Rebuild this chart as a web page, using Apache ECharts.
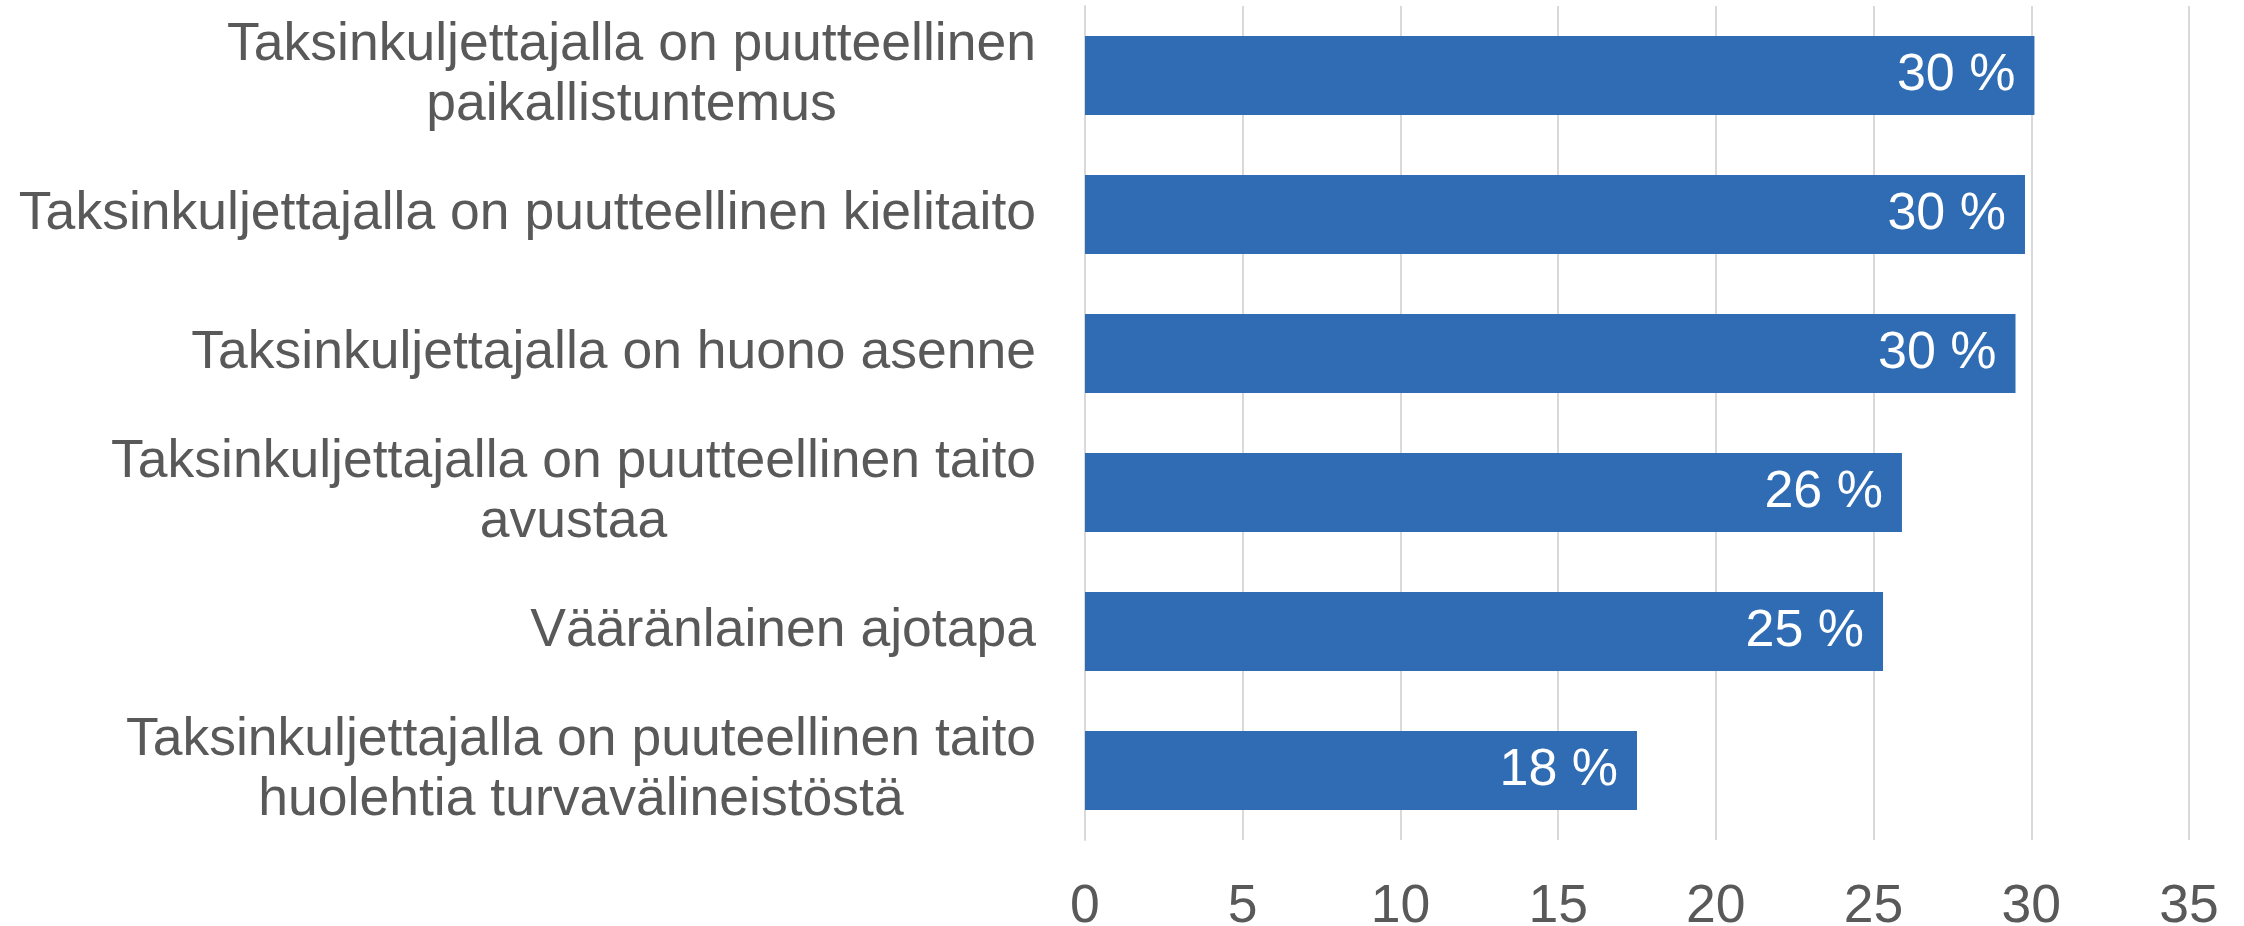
<!DOCTYPE html>
<html>
<head>
<meta charset="utf-8">
<script src="https://cdn.jsdelivr.net/npm/echarts@6/dist/echarts.min.js"></script>
<style>
    html, body { margin: 0; padding: 0; background: #ffffff; }
    #chart { width: 2244px; height: 926px; }
</style>
</head>
<body>
<div id="chart"></div>
<script>
// kategoriat (ylhäältä alas)
var categories = [
    'Taksinkuljettajalla on puutteellinen\npaikallistuntemus',
    'Taksinkuljettajalla on puutteellinen kielitaito',
    'Taksinkuljettajalla on huono asenne',
    'Taksinkuljettajalla on puutteellinen taito\navustaa',
    'Vääränlainen ajotapa',
    'Taksinkuljettajalla on puuteellinen taito\nhuolehtia turvavälineistöstä'
];
var values = [30.1, 29.8, 29.5, 25.9, 25.3, 17.5];
var xTicks = [0, 5, 10, 15, 20, 25, 30, 35];

var textColor = '#595959';
var fontFamily = '"Liberation Sans", Arial, sans-serif';
var fontSize = 53.5;

var chart = echarts.init(document.getElementById('chart'));
var option = {
    backgroundColor: '#ffffff',
    animation: false,
    grid: {
        left: 1085,
        right: 55,
        top: 6,
        bottom: 86,
        containLabel: false,
        outerBoundsMode: 'none'
    },
    xAxis: {
        type: 'value',
        min: xTicks[0],
        max: xTicks[xTicks.length - 1],
        interval: 5,
        axisLine: { show: false },
        axisTick: { show: false },
        splitLine: {
            lineStyle: { color: '#d9d9d9', width: 2 }
        },
        axisLabel: {
            color: textColor,
            fontSize: fontSize,
            fontFamily: fontFamily,
            margin: 40
        }
    },
    yAxis: {
        type: 'category',
        data: categories,
        inverse: true,
        axisTick: { show: false },
        axisLine: {
            show: true,
            lineStyle: { color: '#d9d9d9', width: 2 }
        },
        axisLabel: {
            align: 'right',
            margin: 49,
            // rivit keskitetään lohkon sisällä kuten Excelissä
            formatter: function (val) {
                return val.split('\n').map(function (l) {
                    return '{c|' + l + '}';
                }).join('\n');
            },
            rich: {
                c: {
                    align: 'center',
                    color: textColor,
                    fontSize: fontSize,
                    fontFamily: fontFamily,
                    lineHeight: 60
                }
            }
        }
    },
    series: [
        {
            type: 'bar',
            data: values,
            barCategoryGap: '43%',
            itemStyle: { color: '#306cb4' },
            label: {
                show: true,
                position: 'insideRight',
                distance: 19,
                color: '#ffffff',
                fontSize: 52,
                fontFamily: fontFamily,
                formatter: function (p) {
                    return Math.round(p.value) + ' %';
                }
            }
        }
    ]
};
chart.setOption(option);
</script>
</body>
</html>
